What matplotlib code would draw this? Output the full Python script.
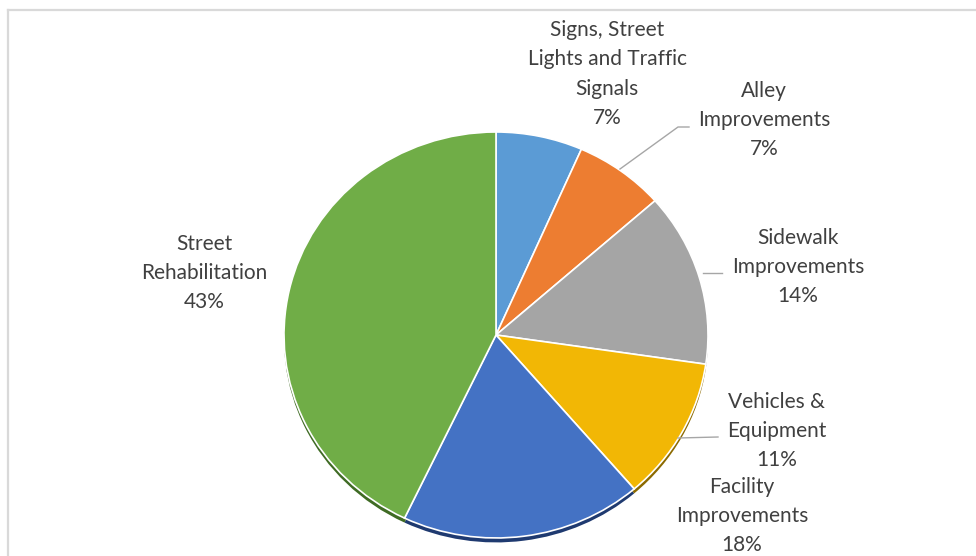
#pie of capital spending by category, 3d-ish office style
import matplotlib
matplotlib.use("Agg")
import matplotlib.pyplot as plt

categories = ["Signs, Street\nLights and Traffic\nSignals", "Alley\nImprovements",
              "Sidewalk\nImprovements", "Vehicles &\nEquipment",
              "Facility\nImprovements", "Street\nRehabilitation"]
shares = [6.6, 6.9, 13.8, 11.4, 18.4, 42.9]
colors = ["#5B9BD5", "#ED7D31", "#A5A5A5", "#F2B705", "#4472C4", "#70AD47"]
dark = ["#2E5C86", "#8A4515", "#606060", "#8C6A00", "#1F3A70", "#3F6B24"]

W, H = 976, 556
fig = plt.figure(figsize=(W / 100, H / 100), dpi=100)

#overlay axes in pixel coords (y down)
bg = fig.add_axes([0, 0, 1, 1])
bg.set_xlim(0, W)
bg.set_ylim(H, 0)
bg.axis("off")
bg.plot([8, 8], [H, 10], color="#D9D9D9", lw=1.6)
bg.plot([8, W], [10, 10], color="#D9D9D9", lw=1.6)

#pie axes placed by pixels
left, right, top, bottom = 284, 708, 132, 540
pax = fig.add_axes([left / W, 1 - bottom / H, (right - left) / W, (bottom - top) / H])
pax.pie(shares, colors=dark, startangle=90, counterclock=False, radius=1,
        center=(0, -0.022), wedgeprops=dict(linewidth=0))
pax.pie(shares, colors=colors, startangle=90, counterclock=False, radius=1,
        wedgeprops=dict(edgecolor="white", linewidth=1.2))
pax.set_aspect("auto")
pax.set_xlim(-1, 1)
pax.set_ylim(-1.01, 1.0)
pax.axis("off")
bg.set_zorder(2)
bg.patch.set_alpha(0)

#labels (center x, center y of block)
label_pos = [(607, 74), (764, 120), (798, 267), (777, 431), (742, 516), (204, 273)]
for name, val, (x, y) in zip(categories, shares, label_pos):
    bg.text(x, y, f"{name}\n{round(val)}%", ha="center", va="center", fontsize=15,
            family="Lato", color="#404040", linespacing=1.59)

#leader lines
line_c = "#A6A6A6"
bg.plot([620, 678, 689], [169, 127, 127], color=line_c, lw=1)
bg.plot([703, 722], [273, 273], color=line_c, lw=1)
bg.plot([678, 718], [438, 437], color=line_c, lw=1)

fig.savefig("out.png", dpi=100)
